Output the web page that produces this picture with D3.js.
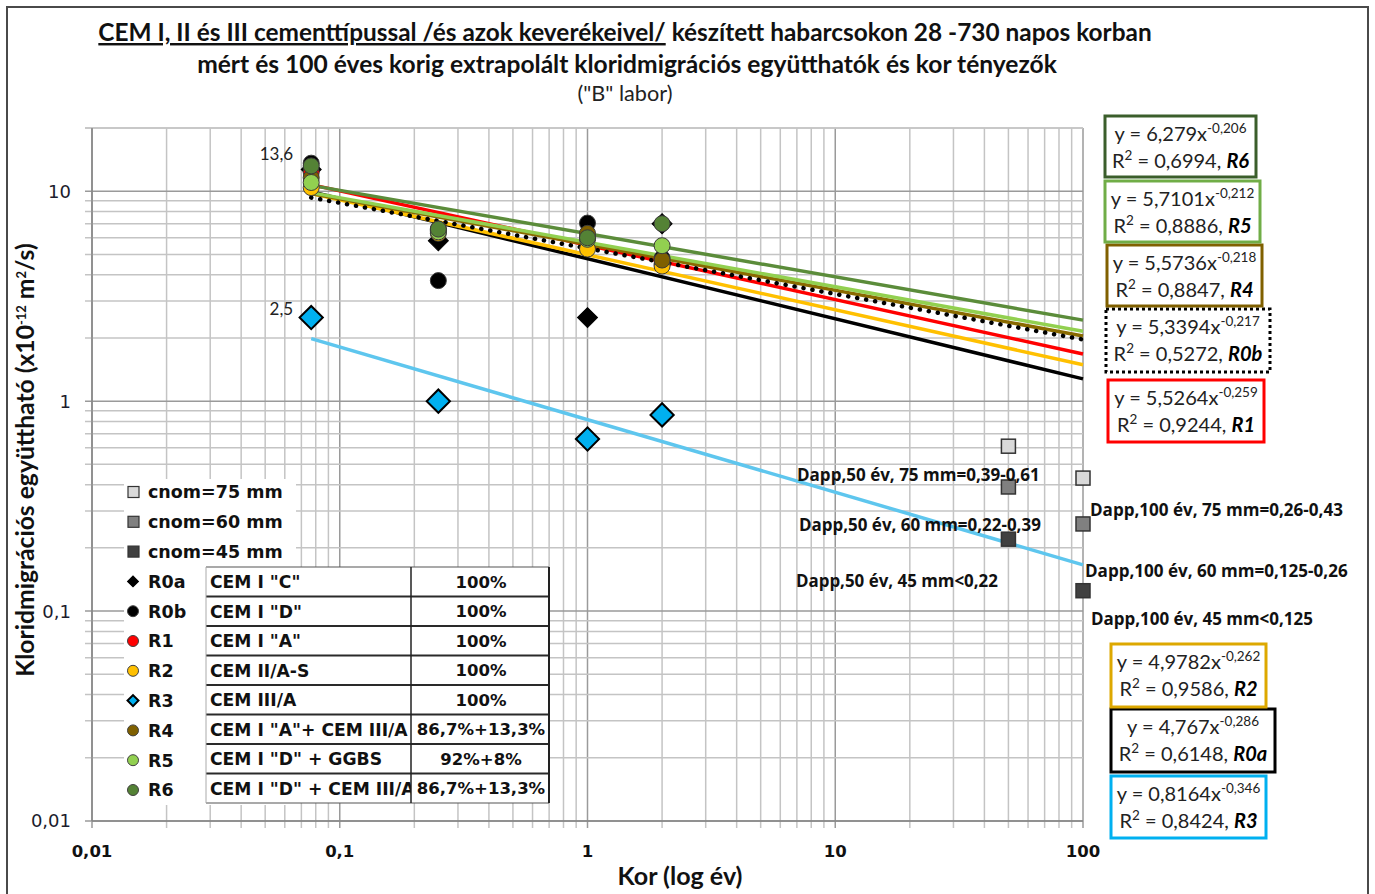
<!DOCTYPE html>
<html>
<head>
<meta charset="utf-8">
<script src="https://cdn.jsdelivr.net/npm/d3@7"></script>
<style>
  body { margin: 0; background: #fff; }
  svg { display: block; }
</style>
</head>
<body>
<svg id="chart" width="1375" height="894"></svg>
<script>
// ---- data ---------------------------------------------------------------
// test ages in years (28, 90, 365 and 730 days)
const ages = [0.0767, 0.25, 1, 2];

const seriesNames = ["R0a", "R0b", "R1", "R2", "R3", "R4", "R5", "R6"];
const R0a = [12.7, 5.8, 2.5, 7.0];
const R0b = [13.6, 3.75, 7.05, 4.8];
const R1  = [12.3, 6.6, 6.0, 4.5];
const R2  = [10.4, 6.3, 5.3, 4.4];
const R3  = [2.5, 1.0, 0.66, 0.86];
const R4  = [11.6, 6.5, 6.3, 4.7];
const R5  = [11.0, 6.4, 5.9, 5.5];
const R6  = [13.2, 6.6, 6.0, 7.0];

// power-law trend lines  y = a * x^b
const fitA  = [4.767, 5.3394, 5.5264, 4.9782, 0.8164, 5.5736, 5.7101, 6.279];
const fitB  = [-0.286, -0.217, -0.259, -0.262, -0.346, -0.218, -0.212, -0.206];
const fitR2 = [0.6148, 0.5272, 0.9244, 0.9586, 0.8424, 0.8847, 0.8886, 0.6994];
const fitFrom = 0.0767, fitTo = 100;

// apparent diffusion limits by nominal cover at 50 and 100 years
const limitAges = [50, 100];
const cnomNames = ["cnom=75 mm", "cnom=60 mm", "cnom=45 mm"];
const cnom75 = [0.61, 0.43];
const cnom60 = [0.39, 0.26];
const cnom45 = [0.22, 0.125];

const limitNotes50  = ["Dapp,50 év, 75 mm=0,39-0,61", "Dapp,50 év, 60 mm=0,22-0,39", "Dapp,50 év, 45 mm<0,22"];
const limitNotes100 = ["Dapp,100 év, 75 mm=0,26-0,43", "Dapp,100 év, 60 mm=0,125-0,26", "Dapp,100 év, 45 mm<0,125"];

const cementTypes  = ['CEM I "C"', 'CEM I "D"', 'CEM I "A"', 'CEM II/A-S', 'CEM III/A',
                      'CEM I "A"+ CEM III/A', 'CEM I "D" + GGBS', 'CEM I "D" + CEM III/A'];
const cementShares = ["100%", "100%", "100%", "100%", "100%", "86,7%+13,3%", "92%+8%", "86,7%+13,3%"];

const xTicks = [0.01, 0.1, 1, 10, 100];
const xTickLabels = ["0,01", "0,1", "1", "10", "100"];
const yTicks = [0.01, 0.1, 1, 10];
const yTickLabels = ["0,01", "0,1", "1", "10"];

// ---- styling ------------------------------------------------------------
const values = [R0a, R0b, R1, R2, R3, R4, R5, R6];
const fill   = ["#000000", "#000000", "#ff0000", "#ffc000", "#00b0f0", "#7f6000", "#92d050", "#548235"];
const lineCol= ["#000000", "#000000", "#ff0000", "#ffc000", "#5ec6ee", "#8a6a00", "#92d050", "#5b8c3a"];
const shape  = ["diamond", "circle", "circle", "circle", "diamond", "circle", "circle", "circle"];
const boxCol = ["#000000", "#000000", "#ff0000", "#dda800", "#00b0f0", "#806000", "#70ad47", "#3b5e2b"];
const cnomFill = ["#d9d9d9", "#808080", "#404040"];

const CAL = "Lato, 'Open Sans', sans-serif";
const VER = "'DejaVu Sans', Verdana, sans-serif";

const svg = d3.select("#chart");
const x = d3.scaleLog().domain([0.01, 100]).range([92, 1083]);
const y = d3.scaleLog().domain([0.01, 20]).range([821, 128]);

const dec = s => String(s).replace(".", ",");
function fitWidth(sel, w) {
  const cur = sel.node().getComputedTextLength();
  const fs = parseFloat(sel.attr("font-size"));
  sel.attr("font-size", fs * w / cur);
}

// outer frame
svg.append("rect").attr("x", 7).attr("y", 7).attr("width", 1361).attr("height", 900)
  .attr("fill", "#fff").attr("stroke", "#4a4a4a").attr("stroke-width", 2);

// ---- grid ---------------------------------------------------------------
const isMajor = v => Math.abs(Math.log10(v) - Math.round(Math.log10(v))) < 1e-9;
const grid = svg.append("g");
x.ticks().forEach(v => {
  grid.append("line").attr("x1", x(v)).attr("x2", x(v)).attr("y1", 128).attr("y2", 828)
    .attr("stroke", isMajor(v) ? "#9a9a9a" : "#c4c4c4").attr("stroke-width", 1.5);
});
const yGrid = y.ticks().concat([20]);
yGrid.forEach(v => {
  grid.append("line").attr("x1", 85).attr("x2", 1083).attr("y1", y(v)).attr("y2", y(v))
    .attr("stroke", isMajor(v) ? "#9a9a9a" : "#c4c4c4").attr("stroke-width", 1.5);
});
// axis lines
grid.append("line").attr("x1", 92).attr("x2", 92).attr("y1", 128).attr("y2", 821)
  .attr("stroke", "#868686").attr("stroke-width", 1.5);
grid.append("line").attr("x1", 92).attr("x2", 1083).attr("y1", 821).attr("y2", 821)
  .attr("stroke", "#868686").attr("stroke-width", 1.5);

// tick labels
svg.append("g").selectAll("text").data(xTicks).join("text")
  .attr("x", d => x(d)).attr("y", 857).attr("text-anchor", "middle")
  .attr("font-family", VER).attr("font-weight", "bold").attr("font-size", 16.5).attr("fill", "#111")
  .text((d, i) => xTickLabels[i]);
svg.append("g").selectAll("text").data(yTicks).join("text")
  .attr("x", 71).attr("y", d => y(d)).attr("dy", "0.36em").attr("text-anchor", "end")
  .attr("font-family", VER).attr("font-size", 18).attr("fill", "#1c1c2c")
  .text((d, i) => yTickLabels[i]);

// axis titles
const xt = svg.append("text").attr("x", 680).attr("y", 885).attr("text-anchor", "middle")
  .attr("font-family", CAL).attr("font-weight", "bold").attr("font-size", 21).attr("fill", "#111")
  .text("Kor (log év)");
fitWidth(xt, 125);

const yt = svg.append("text").attr("transform", "translate(34,460) rotate(-90)")
  .attr("text-anchor", "middle").attr("font-family", CAL).attr("font-weight", "bold")
  .attr("font-size", 20).attr("fill", "#111");
yt.append("tspan").text("Kloridmigrációs együttható (x10");
yt.append("tspan").attr("dy", -8).attr("font-size", 13).text("-12");
yt.append("tspan").attr("dy", 8).text(" m");
yt.append("tspan").attr("dy", -8).attr("font-size", 13).text("2");
yt.append("tspan").attr("dy", 8).text("/s)");
fitWidth(yt, 440);

// ---- titles -------------------------------------------------------------
const t1 = svg.append("text").attr("x", 625).attr("y", 41).attr("text-anchor", "middle")
  .attr("font-family", CAL).attr("font-weight", "bold").attr("font-size", 22).attr("fill", "#111");
t1.append("tspan").style("text-decoration", "underline")
  .text("CEM I, II és III cementtípussal /és azok keverékeivel/");
t1.append("tspan").text(" készített habarcsokon 28 -730 napos korban");
fitWidth(t1, 1054);
const t2 = svg.append("text").attr("x", 627).attr("y", 73).attr("text-anchor", "middle")
  .attr("font-family", CAL).attr("font-weight", "bold").attr("font-size", 22).attr("fill", "#111")
  .text("mért és 100 éves korig extrapolált kloridmigrációs együtthatók és kor tényezők");
fitWidth(t2, 860);
const t3 = svg.append("text").attr("x", 625).attr("y", 101).attr("text-anchor", "middle")
  .attr("font-family", CAL).attr("font-size", 16).attr("fill", "#222")
  .text('("B" labor)');
fitWidth(t3, 95);

// ---- legend with cement table ---------------------------------------------
const leg = svg.append("g");
leg.append("rect").attr("x", 124).attr("y", 479).attr("width", 172).attr("height", 326).attr("fill", "#fff");
const legendNames = cnomNames.concat(seriesNames);
const legY = i => 492 + i * 29.8;
legendNames.forEach((name, i) => {
  const cy = legY(i);
  if (i < 3) {
    leg.append("rect").attr("x", 128).attr("y", cy - 5.5).attr("width", 11).attr("height", 11)
      .attr("fill", cnomFill[i]).attr("stroke", "#333").attr("stroke-width", 1.2);
  } else {
    const s = i - 3;
    if (shape[s] === "circle") {
      leg.append("circle").attr("cx", 133).attr("cy", cy).attr("r", 5.5)
        .attr("fill", fill[s]).attr("stroke", "#404040").attr("stroke-width", 1);
    } else {
      leg.append("path").attr("d", d3.symbol(d3.symbolSquare, 60)())
        .attr("transform", `translate(133,${cy}) rotate(45)`)
        .attr("fill", fill[s]).attr("stroke", "#000").attr("stroke-width", s === 4 ? 2 : 1);
    }
  }
  leg.append("text").attr("x", 148).attr("y", cy).attr("dy", "0.36em")
    .attr("font-family", VER).attr("font-weight", "bold").attr("font-size", 17.5).attr("fill", "#111")
    .text(name);
});

const tab = svg.append("g");
const tX0 = 206, tX1 = 411, tX2 = 549, tY0 = 567, rowH = 29.5;
tab.append("rect").attr("x", tX0).attr("y", tY0).attr("width", tX2 - tX0).attr("height", rowH * 8)
  .attr("fill", "#fff");
svg.append("clipPath").attr("id", "colclip").append("rect")
  .attr("x", tX0).attr("y", tY0).attr("width", tX1 - tX0).attr("height", rowH * 8);
cementTypes.forEach((c, i) => {
  const cy = tY0 + rowH * (i + 0.5);
  tab.append("text").attr("x", 210).attr("y", cy).attr("dy", "0.37em").attr("clip-path", "url(#colclip)")
    .attr("font-family", VER).attr("font-weight", "bold").attr("font-size", 17.2).attr("fill", "#111")
    .text(c);
  tab.append("text").attr("x", 481).attr("y", cy).attr("dy", "0.37em").attr("text-anchor", "middle")
    .attr("font-family", VER).attr("font-weight", "bold").attr("font-size", 16.5).attr("fill", "#111")
    .text(cementShares[i]);
});
d3.range(9).forEach(i => {
  tab.append("line").attr("x1", tX0).attr("x2", tX2).attr("y1", tY0 + rowH * i).attr("y2", tY0 + rowH * i)
    .attr("stroke", i === 0 || i === 8 ? "#555" : "#2a2a2a").attr("stroke-width", i === 0 || i === 8 ? 1.2 : 2);
});
tab.append("line").attr("x1", tX0).attr("x2", tX0).attr("y1", tY0).attr("y2", tY0 + rowH * 8)
  .attr("stroke", "#aaa").attr("stroke-width", 1);
tab.append("line").attr("x1", tX1).attr("x2", tX1).attr("y1", tY0).attr("y2", tY0 + rowH * 8)
  .attr("stroke", "#222").attr("stroke-width", 1.5);
tab.append("line").attr("x1", tX2).attr("x2", tX2).attr("y1", tY0).attr("y2", tY0 + rowH * 8)
  .attr("stroke", "#222").attr("stroke-width", 2);

// ---- trend lines ----------------------------------------------------------
const line = d3.line().x(d => x(d[0])).y(d => y(d[1]));
const lineOrder = [0, 3, 2, 4, 5, 1, 6, 7];
const lines = svg.append("g");
lineOrder.forEach(s => {
  const pts = [fitFrom, fitTo].map(t => [t, fitA[s] * Math.pow(t, fitB[s])]);
  const p = lines.append("path").attr("d", line(pts)).attr("fill", "none")
    .attr("stroke", lineCol[s]).attr("stroke-width", s === 1 ? 4.5 : 3.5);
  if (s === 1) p.attr("stroke-dasharray", "0.1 9").attr("stroke-linecap", "round");
});

// ---- measured points ------------------------------------------------------
const pts = svg.append("g");
values.forEach((vals, s) => {
  vals.forEach((v, i) => {
    if (v == null) return;
    if (shape[s] === "circle") {
      pts.append("circle").attr("cx", x(ages[i])).attr("cy", y(v)).attr("r", 8)
        .attr("fill", fill[s]).attr("stroke", "#3a3a3a").attr("stroke-width", 1);
    } else {
      const size = s === 4 ? 270 : 200;
      pts.append("path").attr("d", d3.symbol(d3.symbolSquare, size)())
        .attr("transform", `translate(${x(ages[i])},${y(v)}) rotate(45)`)
        .attr("fill", fill[s]).attr("stroke", "#000").attr("stroke-width", s === 4 ? 2 : 1);
    }
  });
});

// limit squares
[cnom75, cnom60, cnom45].forEach((vals, k) => {
  vals.forEach((v, i) => {
    pts.append("rect").attr("x", x(limitAges[i]) - 7).attr("y", y(v) - 7)
      .attr("width", 14).attr("height", 14)
      .attr("fill", cnomFill[k]).attr("stroke", "#333").attr("stroke-width", 1.5);
  });
});

// value labels on first points
[[R0b, 0, "13,6"], [R3, 0, "2,5"]].forEach(([arr, i, lbl]) => {
  svg.append("text").attr("x", x(ages[i]) - 18).attr("y", y(arr[i]) - 3).attr("text-anchor", "end")
    .attr("font-family", CAL).attr("font-size", 17).attr("fill", "#222").text(lbl);
});

// Dapp notes
const notePos50  = [[797, 475, 243], [799, 525, 242], [796, 581, 202]];
const notePos100 = [[1090, 510, 253], [1085, 571, 263], [1091, 619, 222]];
function note(txt, p) {
  const t = svg.append("text").attr("x", p[0]).attr("y", p[1]).attr("dy", "0.36em")
    .attr("font-family", "'Open Sans', sans-serif").attr("font-weight", "bold").attr("font-size", 15)
    .attr("fill", "#111").text(txt);
  fitWidth(t, p[2]);
}
limitNotes50.forEach((t, i) => note(t, notePos50[i]));
limitNotes100.forEach((t, i) => note(t, notePos100[i]));

// ---- equation boxes -------------------------------------------------------
const boxPos = { R6: [1105, 116, 151, 61], R5: [1105, 181, 155, 61], R4: [1107, 245, 155, 61],
                 R0b: [1106, 309, 164, 63], R1: [1108, 380, 156, 62], R2: [1111, 644, 155, 63],
                 R0a: [1111, 709, 164, 63], R3: [1111, 776, 155, 62] };
const eq = svg.append("g");
seriesNames.forEach((name, s) => {
  const [bx, by, bw, bh] = boxPos[name];
  const r = eq.append("rect").attr("x", bx).attr("y", by).attr("width", bw).attr("height", bh)
    .attr("fill", "#fff").attr("stroke", boxCol[s]).attr("stroke-width", 3);
  if (name === "R0b") r.attr("stroke-dasharray", "3 3");
  const cx = bx + bw / 2;
  const l1 = eq.append("text").attr("x", cx).attr("y", by + 25).attr("text-anchor", "middle")
    .attr("font-family", CAL).attr("font-size", 20).attr("fill", "#222");
  l1.append("tspan").text(`y = ${dec(fitA[s])}x`);
  l1.append("tspan").attr("dy", -8).attr("font-size", 13.5).text(dec(fitB[s]));
  const l2 = eq.append("text").attr("x", cx).attr("y", by + 52).attr("text-anchor", "middle")
    .attr("font-family", CAL).attr("font-size", 20).attr("fill", "#222");
  l2.append("tspan").text("R");
  l2.append("tspan").attr("dy", -8).attr("font-size", 13.5).text("2");
  l2.append("tspan").attr("dy", 8).text(` = ${dec(fitR2[s])}, `);
  l2.append("tspan").attr("font-weight", "bold").attr("font-style", "italic").attr("fill", "#000").text(name);
});
</script>
</body>
</html>
